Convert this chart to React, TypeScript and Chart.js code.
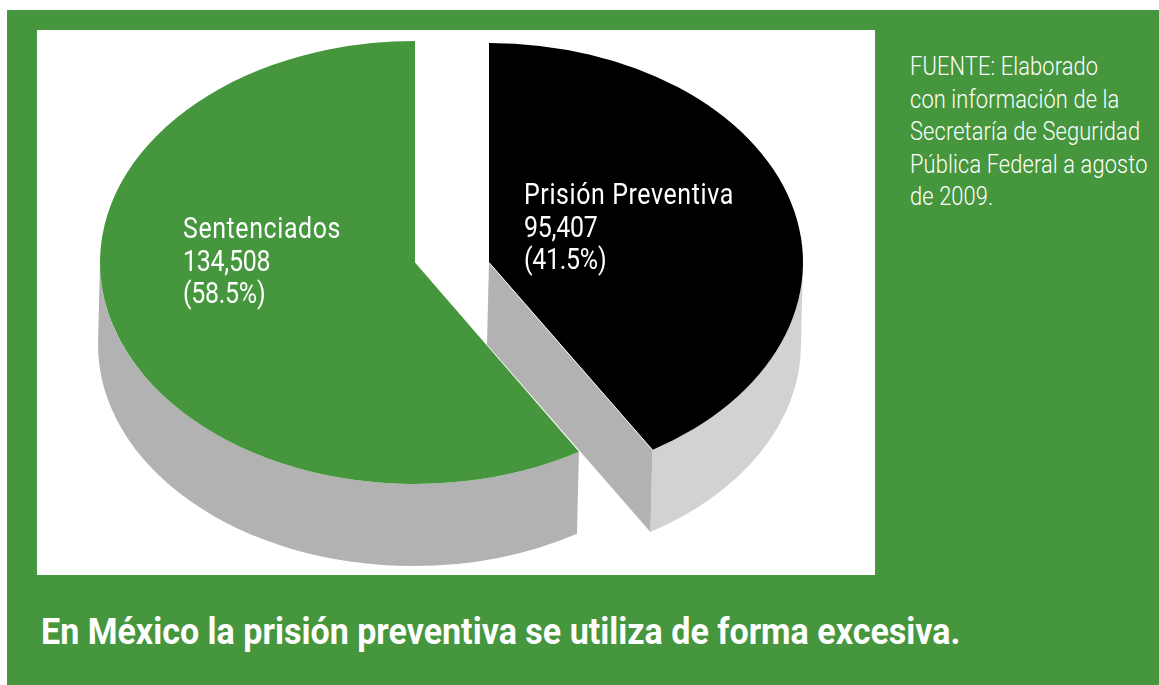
import React, { useEffect, useRef } from "react";
import { Chart, registerables } from "chart.js";

Chart.register(...registerables);

const categories = ["Prisión Preventiva", "Sentenciados"];
const values = [95407, 134508];
const valueLabels = ["95,407", "134,508"];
const percentLabels = ["(41.5%)", "(58.5%)"];
const sourceLines = [
  "FUENTE: Elaborado",
  "con información de la",
  "Secretaría de Seguridad",
  "Pública Federal a agosto",
  "de 2009.",
];
const headline = "En México la prisión preventiva se utiliza de forma excesiva.";

const GREEN = "#45963d";
const sliceColors = ["#000000", GREEN];
const rimColors = ["#d2d2d2", "#b2b2b2"];
const FACE_COLOR = "#b2b2b2";

const PANEL = { x: 37, y: 30, w: 838, h: 545 };
const DEPTH_X = -2;
const DEPTH_Y = 82;
// the drawing's perspective moves the shared cut a little
const CUT_SKEW = (0.75 * Math.PI) / 180;
const sliceGeometry = [
  { x: 489 - PANEL.x, y: 262.5 - PANEL.y, rx: 314, ry: 219.5 },
  { x: 415 - PANEL.x, y: 262.5 - PANEL.y, rx: 315, ry: 221.5 },
];

const pie3d = {
  id: "pie3d",
  beforeDatasetsDraw(chart: any) {
    const { ctx } = chart;
    const arcs = chart.getDatasetMeta(0).data;
    arcs.forEach((arc: any, i: number) => {
      const g = sliceGeometry[i];
      const e = arc.endAngle - CUT_SKEW;
      const s = i === 1 ? arc.startAngle - CUT_SKEW : arc.startAngle;
      const from = Math.max(s, 0);
      const to = Math.min(i === 0 ? e : arc.endAngle, Math.PI);
      if (to > from) {
        ctx.beginPath();
        ctx.ellipse(g.x, g.y, g.rx, g.ry, 0, from, to);
        ctx.ellipse(g.x + DEPTH_X, g.y + DEPTH_Y, g.rx, g.ry, 0, to, from, true);
        ctx.closePath();
        ctx.fillStyle = rimColors[i];
        ctx.fill();
      }
      if (i === 0) {
        const px = g.x + g.rx * Math.cos(e);
        const py = g.y + g.ry * Math.sin(e);
        ctx.beginPath();
        ctx.moveTo(g.x, g.y);
        ctx.lineTo(px, py);
        ctx.lineTo(px + DEPTH_X, py + DEPTH_Y);
        ctx.lineTo(g.x + DEPTH_X, g.y + DEPTH_Y);
        ctx.closePath();
        ctx.fillStyle = FACE_COLOR;
        ctx.fill();
      }
    });
  },
  beforeDatasetDraw(chart: any) {
    const { ctx } = chart;
    const arcs = chart.getDatasetMeta(0).data;
    arcs.forEach((arc: any, i: number) => {
      const g = sliceGeometry[i];
      const r = arc.outerRadius;
      const saved = { s: arc.startAngle, e: arc.endAngle, c: arc.circumference };
      if (i === 0) {
        arc.endAngle = saved.e - CUT_SKEW;
        arc.circumference = saved.c - CUT_SKEW;
      } else {
        arc.startAngle = saved.s - CUT_SKEW;
        arc.circumference = saved.c + CUT_SKEW;
      }
      ctx.save();
      ctx.translate(g.x, g.y);
      ctx.scale(g.rx / r, g.ry / r);
      ctx.translate(-arc.x, -arc.y);
      arc.draw(ctx);
      ctx.restore();
      if (i === 0) {
        const e = arc.endAngle;
        ctx.beginPath();
        ctx.moveTo(g.x, g.y);
        ctx.lineTo(g.x + g.rx * Math.cos(e), g.y + g.ry * Math.sin(e));
        ctx.strokeStyle = "#ffffff";
        ctx.lineWidth = 1;
        ctx.stroke();
      }
      arc.startAngle = saved.s;
      arc.endAngle = saved.e;
      arc.circumference = saved.c;
    });
    return false;
  },
};

const textBase: React.CSSProperties = {
  position: "absolute",
  color: "#ffffff",
  fontFamily: 'Roboto, "Liberation Sans", sans-serif',
  whiteSpace: "nowrap",
  transformOrigin: "0 0",
};

const labelPos = [
  { left: 524, top: 178 },
  { left: 183, top: 212 },
];

export default function App() {
  const ref = useRef<HTMLCanvasElement>(null);
  useEffect(() => {
    const chart = new Chart(ref.current!, {
      type: "pie",
      data: {
        labels: categories,
        datasets: [{ data: values, backgroundColor: sliceColors, borderWidth: 0 }],
      },
      options: {
        responsive: false,
        animation: false,
        events: [],
        plugins: { legend: { display: false }, tooltip: { enabled: false } },
      },
      plugins: [pie3d],
    } as any);
    return () => chart.destroy();
  }, []);

  return (
    <div style={{ position: "fixed", left: 0, top: 0, width: 1159, height: 685, background: "#ffffff", overflow: "hidden" }}>
      <div style={{ position: "absolute", left: 7, top: 10, width: 1152, height: 675, background: GREEN }} />
      <div style={{ position: "absolute", left: PANEL.x, top: PANEL.y, width: PANEL.w, height: PANEL.h, background: "#ffffff" }}>
        <canvas ref={ref} width={PANEL.w} height={PANEL.h} style={{ display: "block", width: PANEL.w, height: PANEL.h }} />
      </div>
      {categories.map((name, i) => (
        <div key={name} style={{ ...textBase, ...labelPos[i], fontSize: 29, lineHeight: "32.5px", fontWeight: 400, transform: "scaleX(0.86)" }}>
          <div style={{ letterSpacing: 0.7 }}>{name}</div>
          <div style={{ letterSpacing: -0.3 }}>{valueLabels[i]}</div>
          <div style={{ letterSpacing: -0.3 }}>{percentLabels[i]}</div>
        </div>
      ))}
      <div style={{ ...textBase, left: 910, top: 50, fontSize: 26, lineHeight: "32.5px", fontWeight: 300, letterSpacing: 0.15, transform: "scaleX(0.84)" }}>
        {sourceLines.map((line) => (
          <div key={line}>{line}</div>
        ))}
      </div>
      <div style={{ ...textBase, left: 41, top: 610, fontSize: 37, lineHeight: "44px", fontWeight: 700, transform: "scaleX(0.92)" }}>
        {headline}
      </div>
    </div>
  );
}
